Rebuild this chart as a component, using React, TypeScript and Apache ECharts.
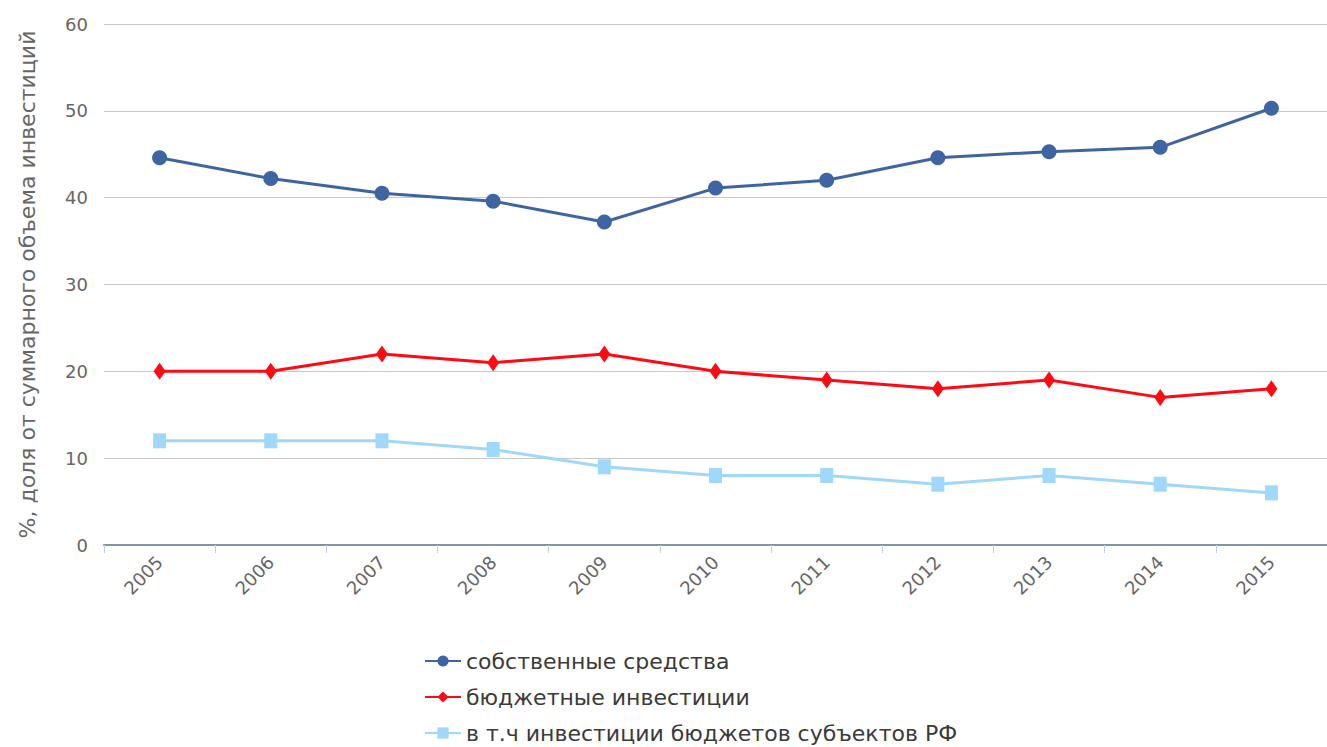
import React, { useEffect, useRef } from "react";
import * as echarts from "echarts";

const years = ["2005", "2006", "2007", "2008", "2009", "2010", "2011", "2012", "2013", "2014", "2015"];
const ownFunds = [44.6, 42.2, 40.5, 39.6, 37.2, 41.1, 42.0, 44.6, 45.3, 45.8, 50.3];
const budgetInvest = [20, 20, 22, 21, 22, 20, 19, 18, 19, 17, 18];
const regionalBudget = [12, 12, 12, 11, 9, 8, 8, 7, 8, 7, 6];
const yTicks = { min: 0, max: 60, interval: 10 };
const seriesNames = ["собственные средства", "бюджетные инвестиции", "в т.ч инвестиции бюджетов субъектов РФ"];
const yAxisTitle = "%, доля от суммарного объема инвестиций";

const FONT = "'DejaVu Sans', sans-serif";

export default function App() {
  const ref = useRef<HTMLDivElement>(null);
  useEffect(() => {
    if (!ref.current) return;
    const chart = echarts.init(ref.current, undefined, { renderer: "svg" });
    chart.setOption({
      animation: false,
      textStyle: { fontFamily: FONT },
      grid: { left: 104, top: 24, width: 1229, bottom: 202, containLabel: false },
      legend: {
        orient: "vertical",
        left: 419,
        top: 645,
        width: 700,
        height: 160,
        itemGap: 14,
        itemWidth: 36,
        itemHeight: 14,
        textStyle: { fontSize: 22, color: "#3a3a3a", fontFamily: FONT },
        data: seriesNames,
      },
      xAxis: {
        type: "category",
        data: years,
        boundaryGap: true,
        axisLine: { lineStyle: { color: "#8494a6", width: 2 } },
        axisTick: { show: true, length: 8, lineStyle: { color: "#c0d0e0", width: 1 } },
        axisLabel: { rotate: 45, fontSize: 18, color: "#666", margin: 14, fontFamily: FONT },
      },
      yAxis: {
        type: "value",
        min: yTicks.min,
        max: yTicks.max,
        interval: yTicks.interval,
        name: yAxisTitle,
        nameLocation: "middle",
        nameGap: 66,
        nameRotate: 90,
        nameTextStyle: { fontSize: 22, color: "#666", fontFamily: FONT },
        axisLine: { show: false },
        axisTick: { show: false },
        axisLabel: { fontSize: 18, color: "#666", margin: 16, fontFamily: FONT },
        splitLine: { lineStyle: { color: "#c8c8c8", width: 1 } },
      },
      series: [
        {
          name: seriesNames[0],
          type: "line",
          data: ownFunds,
          symbol: "circle",
          symbolSize: 15,
          itemStyle: { color: "#3f64a2" },
          lineStyle: { color: "#3f64a2", width: 3 },
        },
        {
          name: seriesNames[1],
          type: "line",
          data: budgetInvest,
          symbol: "diamond",
          symbolSize: [12, 17],
          itemStyle: { color: "#ff0a14" },
          lineStyle: { color: "#ff0a14", width: 3 },
        },
        {
          name: seriesNames[2],
          type: "line",
          data: regionalBudget,
          symbol: "rect",
          symbolSize: [13, 15],
          itemStyle: { color: "#9fd8fa" },
          lineStyle: { color: "#9fd8fa", width: 3 },
        },
      ],
    });
    return () => chart.dispose();
  }, []);
  return <div ref={ref} style={{ width: 1327, height: 747, position: "absolute", left: 0, top: 0 }} />;
}
